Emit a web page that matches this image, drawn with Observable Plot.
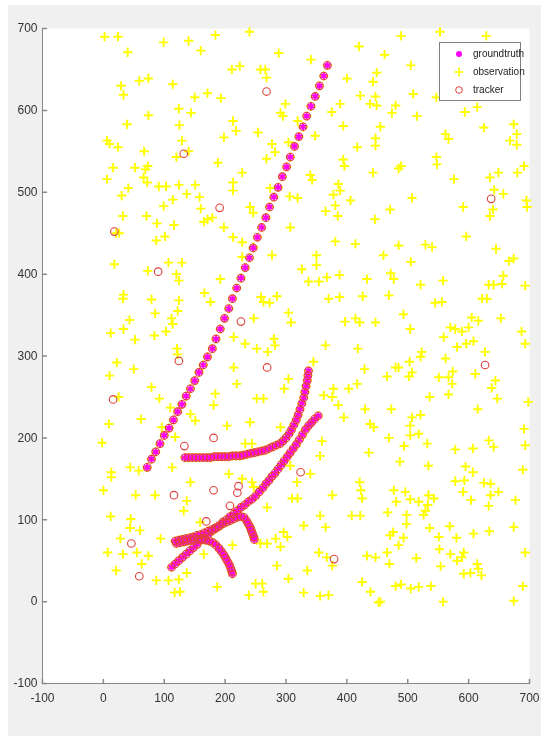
<!DOCTYPE html>
<html><head><meta charset="utf-8">
<script src="https://cdn.jsdelivr.net/npm/d3@7"></script>
<script src="https://cdn.jsdelivr.net/npm/@observablehq/plot@0.6"></script>
<style>
body{margin:0;background:#fff;width:546px;height:740px;position:relative;overflow:hidden;font-family:"Liberation Sans Narrow","Liberation Sans",Arial,sans-serif}
#bg{position:absolute;left:8px;top:5px;width:533px;height:731px;background:#f0f0f0}
#chart{position:absolute;left:0;top:0;filter:blur(0.35px)}
#legend{position:absolute;left:439px;top:42px;width:82px;height:59px;background:#fff;border:1px solid #808080;box-sizing:border-box;font-size:10px;color:#222;filter:blur(0.3px)}
#legend .row{position:absolute;left:0;height:14px;width:80px}
#legend svg{position:absolute;left:12px;top:0}
#legend span{position:absolute;left:33px;top:0;line-height:14px;white-space:nowrap}
</style></head>
<body>
<div id="bg"></div>
<div id="chart"></div>
<div id="legend"></div>
<script>
const ticks = [-100, 0, 100, 200, 300, 400, 500, 600, 700];
const axisMin = -100;
const seriesNames = ["groundtruth", "observation", "tracker"];

const track1 = [[72,164],[79,174],[86,183],[93,193],[100,203],[108,212],[115,222],[122,232],[129,241],[136,251],[143,260],[150,270],[157,280],[164,289],[171,299],[179,309],[185,321],[192,333],[199,346],[206,358],[212,370],[219,383],[226,395],[233,408],[240,420],[246,432],[253,445],[260,457],[267,469],[273,482],[280,494],[287,506],[294,519],[301,531],[307,543],[314,556],[321,568],[328,580],[334,593],[341,605],[348,617],[355,630],[362,642],[368,655]];
const track2 = [[134,176],[140,176],[146,176],[152,176],[158,176],[164,176],[170,176],[176,176],[182,177],[188,177],[194,177],[200,177],[206,177],[212,178],[218,178],[224,178],[230,179],[236,180],[242,181],[248,182],[254,183],[260,184],[266,185],[272,187],[278,189],[284,191],[290,193],[295,196],[300,200],[305,205],[309,210],[313,216],[317,222],[320,228],[323,235],[326,242],[329,249],[331,256],[333,263],[335,270],[336,276],[337,282]];
const track3 = [[112,42],[118,46],[124,50],[130,54],[136,58],[142,62],[148,66],[154,70],[160,75],[166,78],[172,82],[178,86],[184,89],[190,93],[196,97],[202,100],[208,104],[214,107],[220,111],[226,115],[232,118],[238,122],[244,125],[250,129],[256,134],[262,139],[267,144],[272,148],[277,153],[282,157],[287,162],[292,167],[297,172],[302,177],[307,182],[312,187],[317,192],[322,198],[327,204],[332,210],[337,215],[342,219],[347,223],[353,227]];
const track4 = [[118,74],[124,75],[130,76],[136,77],[142,78],[148,79],[154,81],[160,82],[166,84],[172,86],[178,88],[184,90],[190,92],[196,95],[202,97],[208,99],[214,101],[220,103],[226,104],[231,103],[235,99],[238,95],[241,91],[243,87],[245,83],[247,79],[248,76]];
const track5 = [[120,71],[126,72],[132,73],[138,74],[144,75],[150,76],[156,76],[162,76],[168,75],[174,74],[180,72],[185,69],[190,65],[194,61],[198,57],[201,53],[204,49],[207,45],[209,41],[211,37],[212,34]];

const clutter = [
[2,690],[24,690],[40,671],[99,683],[140,685],[160,673],[29,630],[33,619],[59,636],[74,639],[114,632],[150,616],[171,621],[124,602],[144,597],[74,594],[39,583],[125,582],[6,563],[10,559],[24,555],[129,563],[67,550],[140,550],[120,543],[16,530],[52,530],[69,528],[73,532],[66,518],[6,516],[72,512],[41,505],[91,507],[103,507],[124,509],[151,509],[137,498],[158,494],[30,496],[114,491],[99,483],[160,480],[71,471],[32,471],[88,462],[116,460],[165,464],[171,467],[21,450],[26,450],[87,441],[101,446],[18,412],[107,414],[129,414],[73,404],[120,400],[124,392],[166,377],[33,375],[32,370],[79,369],[124,368],[85,352],[122,355],[43,344],[112,346],[114,339],[12,328],[33,333],[52,320],[84,325],[103,330],[121,309],[122,302],
[184,692],[240,696],[288,670],[341,662],[420,678],[211,650],[224,654],[258,650],[266,650],[268,640],[400,639],[449,646],[443,635],[193,615],[299,608],[291,597],[295,593],[375,598],[389,608],[422,618],[447,617],[438,608],[449,606],[213,587],[218,575],[254,573],[319,587],[394,581],[198,567],[348,569],[277,559],[282,549],[304,561],[417,555],[447,566],[447,557],[188,536],[268,541],[394,540],[396,532],[228,524],[340,521],[343,515],[443,524],[213,512],[213,502],[274,505],[306,495],[319,493],[386,510],[389,502],[378,497],[406,490],[381,484],[241,482],[246,475],[365,477],[385,471],[446,467],[179,469],[198,457],[307,457],[213,445],[228,439],[381,440],[414,437],[247,433],[277,423],[350,423],[350,411],[228,421],[326,406],[192,394],[367,396],[388,399],[337,391],[354,391],[433,394],[259,372],[263,366],[273,365],[285,373],[370,370],[388,372],[426,373],[176,366],[247,346],[304,353],[308,341],[397,342],[414,346],[421,341],[447,341],[214,323],[280,321],[282,313],[233,315],[252,309],[365,313],[418,309],[270,305],
[489,691],[553,696],[629,691],[462,668],[505,655],[509,620],[547,616],[480,606],[474,597],[515,593],[594,598],[614,604],[455,580],[625,579],[562,571],[567,565],[674,583],[679,571],[668,563],[679,558],[485,529],[489,532],[547,543],[548,534],[576,516],[635,518],[649,524],[680,524],[691,532],[642,503],[657,498],[507,493],[471,479],[591,482],[635,471],[640,479],[695,490],[696,482],[596,446],[529,436],[540,433],[485,435],[460,423],[505,415],[645,431],[666,416],[674,419],[657,398],[472,401],[477,394],[521,387],[558,392],[633,387],[641,387],[655,388],[693,386],[469,374],[545,365],[556,366],[622,370],[630,370],[493,351],[653,346],[504,333],[605,347],[616,343],[570,335],[578,333],[589,330],[600,335],[559,323],[581,311],[596,315],[608,318],[523,305],[627,305],[687,330],[693,315],
[22,292],[50,284],[10,276],[79,262],[92,248],[25,250],[110,237],[143,229],[62,223],[9,217],[151,221],[96,213],[118,201],[-2,194],[44,164],[58,160],[13,158],[13,152],[113,164],[143,146],[0,136],[53,130],[85,130],[137,123],[132,111],[12,104],[45,101],[44,90],[60,87],[28,77],[94,77],[159,97],[7,60],[32,58],[55,60],[74,56],[63,46],[21,38],[87,26],[107,26],[124,27],[137,35],[117,11],[126,12],[165,58],
[214,286],[219,266],[304,272],[297,260],[345,293],[362,252],[376,250],[378,260],[403,260],[417,266],[429,284],[430,235],[386,240],[395,225],[438,217],[444,213],[184,254],[181,240],[203,215],[241,219],[252,248],[263,248],[291,213],[359,196],[356,178],[436,182],[233,193],[244,193],[206,156],[228,150],[244,146],[247,140],[307,166],[340,156],[318,146],[421,146],[423,136],[425,126],[376,130],[310,126],[319,126],[269,115],[356,105],[365,91],[408,105],[422,105],[329,93],[296,85],[302,79],[283,77],[269,71],[258,71],[291,67],[354,60],[367,54],[376,44],[433,56],[447,54],[212,69],[285,44],[335,38],[304,28],[425,24],[250,22],[261,22],[263,12],[239,8],[187,18],[329,11],[356,7],[370,8],[439,12],[452,-1],
[480,286],[485,286],[466,275],[503,293],[521,299],[502,275],[507,280],[551,274],[567,274],[574,281],[573,266],[562,297],[611,278],[644,270],[638,261],[647,248],[536,250],[567,253],[473,235],[615,235],[507,225],[521,228],[504,215],[504,203],[518,205],[698,244],[691,211],[469,200],[494,190],[532,193],[578,186],[607,187],[633,197],[641,189],[693,191],[487,171],[534,166],[595,165],[607,158],[689,161],[578,147],[593,148],[625,145],[636,144],[591,134],[477,136],[496,134],[481,122],[504,125],[518,122],[534,130],[543,126],[533,118],[604,124],[636,130],[633,117],[649,134],[677,124],[467,109],[498,106],[529,111],[526,106],[498,95],[536,90],[569,92],[476,85],[471,81],[493,78],[485,69],[551,79],[580,78],[608,83],[634,86],[674,91],[466,60],[470,46],[514,53],[552,64],[570,58],[581,50],[592,60],[589,54],[554,43],[614,46],[616,40],[592,34],[603,35],[621,32],[693,60],[480,19],[489,21],[505,16],[518,18],[538,19],[558,0],[689,19],[674,1],[455,0]
];

const falseTracks = [[132,547],[18,452],[90,403],[268,623],[191,481],[226,342],[637,492],[124,294],[16,247],[133,190],[116,130],[46,71],[59,31],[169,98],[269,286],[181,200],[324,158],[222,141],[181,136],[220,133],[208,117],[379,52],[627,289]];

const colors = {groundtruth: "#ff00ff", observation: "#ffff00", tracker: "#e0403a"};

const truth = [...track1, ...track2, ...track3, ...track4, ...track5];
const observations = [...clutter, ...truth];
const tracker = [...truth, ...falseTracks];

const tickShapeUp = {draw(ctx, l) { ctx.moveTo(0, 0); ctx.lineTo(0, -l); }};

const chart = Plot.plot({
  width: 546, height: 740,
  marginLeft: 42, marginRight: 17, marginTop: 28, marginBottom: 57,
  x: {domain: [-100, 700]},
  y: {domain: [-100, 700]},
  style: {background: "transparent", fontFamily: "'Liberation Sans Narrow','Liberation Sans',Arial,sans-serif", fontSize: "12px", color: "#333"},
  marks: [
    Plot.frame({fill: "white", stroke: null}),
    Plot.dot(observations, {x: d => d[0], y: d => d[1], symbol: "plus", stroke: colors.observation, r: 3.1, strokeWidth: 1.9}),
    Plot.dot(truth, {x: d => d[0], y: d => d[1], symbol: "asterisk", stroke: colors.groundtruth, r: 3.3, strokeWidth: 2}),
    Plot.dot(tracker, {x: d => d[0], y: d => d[1], symbol: "circle", stroke: colors.tracker, fill: "none", r: 3.8, strokeWidth: 1.1}),
    Plot.ruleX([axisMin], {stroke: "#888", strokeWidth: 1}),
    Plot.ruleY([axisMin], {stroke: "#888", strokeWidth: 1}),
    Plot.vector(ticks, {x: d => d, y: axisMin, length: 4, rotate: 0, anchor: "start", shape: tickShapeUp, stroke: "#888"}),
    Plot.vector(ticks, {x: axisMin, y: d => d, length: 4, rotate: 90, anchor: "start", shape: tickShapeUp, stroke: "#888"}),
    Plot.axisX(ticks, {tickSize: 0, tickPadding: 10, fill: "#333", tickFormat: d => String(d)}),
    Plot.axisY(ticks, {tickSize: 0, tickPadding: 5, fill: "#333", tickFormat: d => String(d)})
  ]
});
document.getElementById("chart").appendChild(chart);

// legend
const legend = document.getElementById("legend");
const symDraw = {
  groundtruth: `<circle cx="7" cy="7" r="3" fill="${colors.groundtruth}"/>`,
  observation: `<path d="M7,2.5V11.5M2.5,7H11.5" stroke="${colors.observation}" stroke-width="1.6"/>`,
  tracker: `<circle cx="7" cy="7" r="3.3" fill="none" stroke="${colors.tracker}" stroke-width="1"/>`
};
const rowTops = [4, 22, 40];
seriesNames.forEach((name, i) => {
  const row = document.createElement("div");
  row.className = "row";
  row.style.top = rowTops[i] + "px";
  row.innerHTML = `<svg width="14" height="14">${symDraw[name]}</svg><span>${name}</span>`;
  legend.appendChild(row);
});
</script>
</body></html>
